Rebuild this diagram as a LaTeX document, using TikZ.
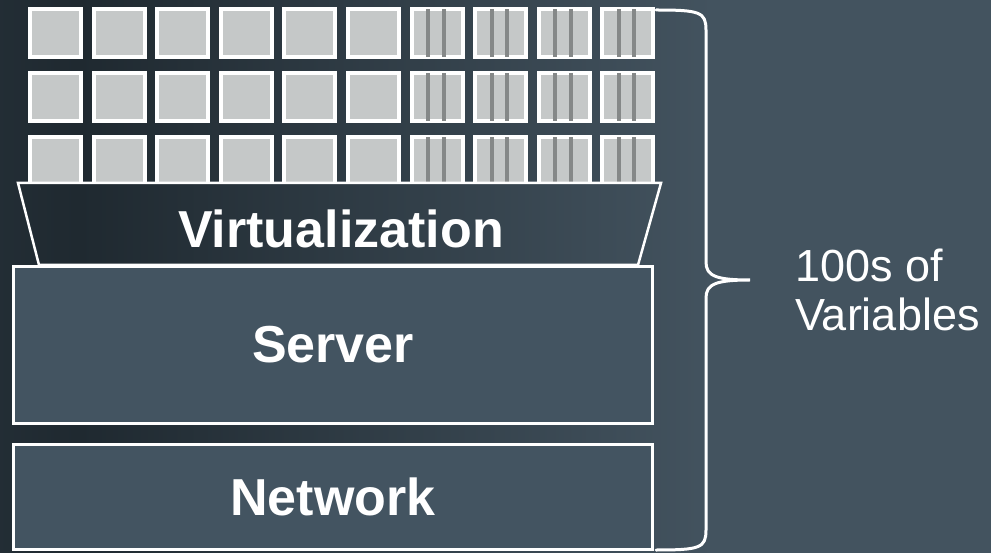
\documentclass[tikz,border=0pt]{standalone}
\usepackage{fontspec}
\setmainfont{Liberation Sans}
\usetikzlibrary{calc}

\definecolor{bgdark}{HTML}{1F2930}
\definecolor{bglight}{HTML}{43535F}
\definecolor{slab}{HTML}{435461}
\definecolor{vmgray}{HTML}{C5C8C8}
\definecolor{bargray}{HTML}{858888}
\pgfdeclarehorizontalshading{bgshade}{100bp}{color(0bp)=(bgdark!90!bglight);
  color(25bp)=(bgdark!90!bglight); color(29bp)=(bgdark);
  color(61bp)=(bglight); color(100bp)=(bglight)}

\begin{document}
\begin{tikzpicture}[x=1pt,y=-1pt,line join=miter,semithick]
  \tikzstyle{vm}=[rectangle,draw=white,fill=vmgray,line width=4pt,
    minimum width=51pt,minimum height=48.6pt,inner sep=0pt]
  \tikzstyle{bar}=[draw=bargray,line width=4pt]
  \tikzstyle{layer}=[rectangle,draw=white,fill=slab,line width=3pt,
    minimum width=639pt,inner sep=0pt,text=white,
    font=\fontsize{52}{60}\selectfont\bfseries]
  \tikzstyle{bracket}=[draw=white,line width=3pt,line cap=round]
  % background
  \shade[shading=bgshade] (0,0) rectangle (991,553);
  \useasboundingbox (0,0) rectangle (991,553);
  % virtual machines
  \foreach \r in {0,1,2}
    \foreach \c in {0,...,9}
      \node[vm] (vm-\r-\c) at (55.5+63.6*\c,33+64*\r) {};
  \foreach \r in {0,1,2}
    \foreach \c in {6,...,9}{
      \draw[bar] ([xshift=-9pt,yshift=-2.5pt]vm-\r-\c.north)
        -- ([xshift=-9pt,yshift=2.5pt]vm-\r-\c.south);
      \draw[bar] ([xshift=6.5pt,yshift=-2.5pt]vm-\r-\c.north)
        -- ([xshift=6.5pt,yshift=2.5pt]vm-\r-\c.south);
    }
  % virtualization layer
  \begin{scope}
    \clip (18,183) -- (661,183) -- (638,265) -- (39,265) -- cycle;
    \shade[shading=bgshade] (0,0) rectangle (991,553);
  \end{scope}
  \draw[draw=white,line width=2.5pt]
    (18,183) -- (661,183) -- (638,265) -- (39,265) -- cycle;
  \node[text=white,font=\fontsize{52}{60}\selectfont\bfseries,anchor=base]
    (virt) at (341,248) {Virtualization};
  % server and network
  \node[layer,minimum height=157pt] (server) at (333,345) {Server};
  \node[layer,minimum height=105pt] (network) at (333,497) {Network};
  % brace
  \draw[bracket] (656,10) .. controls (700,10) and (706,12) .. (706,30)
    -- (706,262) .. controls (706,276) and (716,280) .. (750,280)
    .. controls (716,280) and (706,284) .. (706,298)
    -- (706,530) .. controls (706,548) and (700,550) .. (656,550);
  \node[text=white,font=\fontsize{45}{50}\selectfont,align=left,
    anchor=base west,inner sep=0pt] (vars) at (795,331)
    {100s of\\Variables};
\end{tikzpicture}
\end{document}
